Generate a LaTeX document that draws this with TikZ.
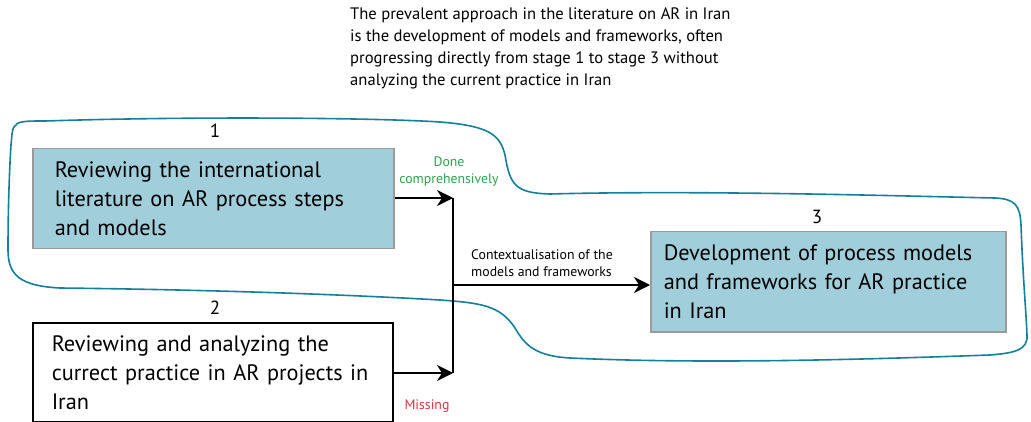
\documentclass[tikz,border=0pt]{standalone}
\usepackage{fontspec}
\setmainfont{PT Sans}
\usetikzlibrary{arrows.meta}
\definecolor{boxblue}{HTML}{A0CFDB}
\definecolor{boxgray}{HTML}{9A9A9A}
\definecolor{loopteal}{HTML}{127F9B}
\definecolor{donegreen}{HTML}{2BA24C}
\definecolor{missred}{HTML}{E0333F}
\tikzset{
  stagebox/.style={draw, line width=1.5pt, minimum height=100pt, align=left, anchor=north west,
    font=\fontsize{22.3}{29}\selectfont, text=black},
  bluebox/.style={stagebox, fill=boxblue, draw=boxgray},
  whitebox/.style={stagebox, fill=white, draw=black},
  numlbl/.style={font=\fontsize{19}{20}\selectfont},
  smalllbl/.style={font=\fontsize{13.8}{17}\selectfont, align=center, inner sep=0pt},
  flow/.style={line width=1.8pt, -{Stealth[length=16pt,width=16pt,inset=5pt]}},
  loop/.style={draw=loopteal, line width=1.6pt}
}
\begin{document}
\begin{tikzpicture}[x=1pt,y=-1pt]
\useasboundingbox (0,0) rectangle (1031,422);
% enclosing loop
\draw[loop] (14,127) .. controls (17,121) and (25,121) .. (45,121)
 .. controls (200,116) and (380,118) .. (440,122)
 .. controls (490,126) and (500,135) .. (505,155)
 .. controls (510,185) and (515,193) .. (550,194)
 .. controls (700,190) and (900,196) .. (995,198)
 .. controls (1015,199) and (1020,205) .. (1021,225)
 .. controls (1023,280) and (1026,310) .. (1027,335)
 .. controls (1028,350) and (1015,353) .. (990,355)
 .. controls (850,360) and (700,364) .. (570,358)
 .. controls (535,356) and (525,345) .. (515,328)
 .. controls (500,305) and (480,303) .. (440,300)
 .. controls (300,292) and (150,289) .. (60,288)
 .. controls (20,286) and (8,275) .. (8,250)
 .. controls (8,200) and (10,160) .. (11,145)
 .. controls (12,135) and (12,130) .. (14,127) -- cycle;
% top note
\node[anchor=north west, align=left, inner sep=0pt, font=\fontsize{16.6}{22}\selectfont] (note) at (350,7)
 {The prevalent approach in the literature on AR in Iran\\
  is the development of models and frameworks, often\\
  progressing directly from stage 1 to stage 3 without\\
  analyzing the current practice in Iran};
% boxes
\node[bluebox, minimum width=361pt, text width=317pt, inner xsep=22pt] (b1) at (32,148)
 {Reviewing the international\\literature on AR process steps\\and models};
\node[whitebox, minimum width=360pt, text width=330pt, inner xsep=15pt, minimum height=99pt] (b2) at (32,322)
 {\hspace*{4pt}Reviewing and analyzing the\\\hspace*{4pt}currect practice in AR projects in\\\hspace*{4pt}Iran};
\node[bluebox, minimum width=355pt, text width=329pt, inner xsep=13pt] (b3) at (650,231)
 {Development of process models\\and frameworks for AR practice\\in Iran};
% numbers
\node[numlbl] (n1) at (215,131) {1};
\node[numlbl] (n2) at (215,308) {2};
\node[numlbl] (n3) at (817,217) {3};
% labels
\node[smalllbl, text=donegreen] (done) at (449,172) {Done\\comprehensively};
\node[smalllbl, text=black, align=left, anchor=west] (ctx) at (471,263) {Contextualisation of the\\models and frameworks};
\node[smalllbl, text=missred] (miss) at (427,406) {Missing};
% connectors
\coordinate (j1) at (453,198);
\coordinate (j2) at (453,373);
\coordinate (jm) at (453,285);
\draw[flow] (b1.east |- j1) -- (j1);
\draw[flow] (b2.east |- j2) -- (j2);
\draw[line width=1.8pt] (j1) -- (j2);
\draw[flow] (jm) -- (jm -| b3.west);
\end{tikzpicture}
\end{document}
